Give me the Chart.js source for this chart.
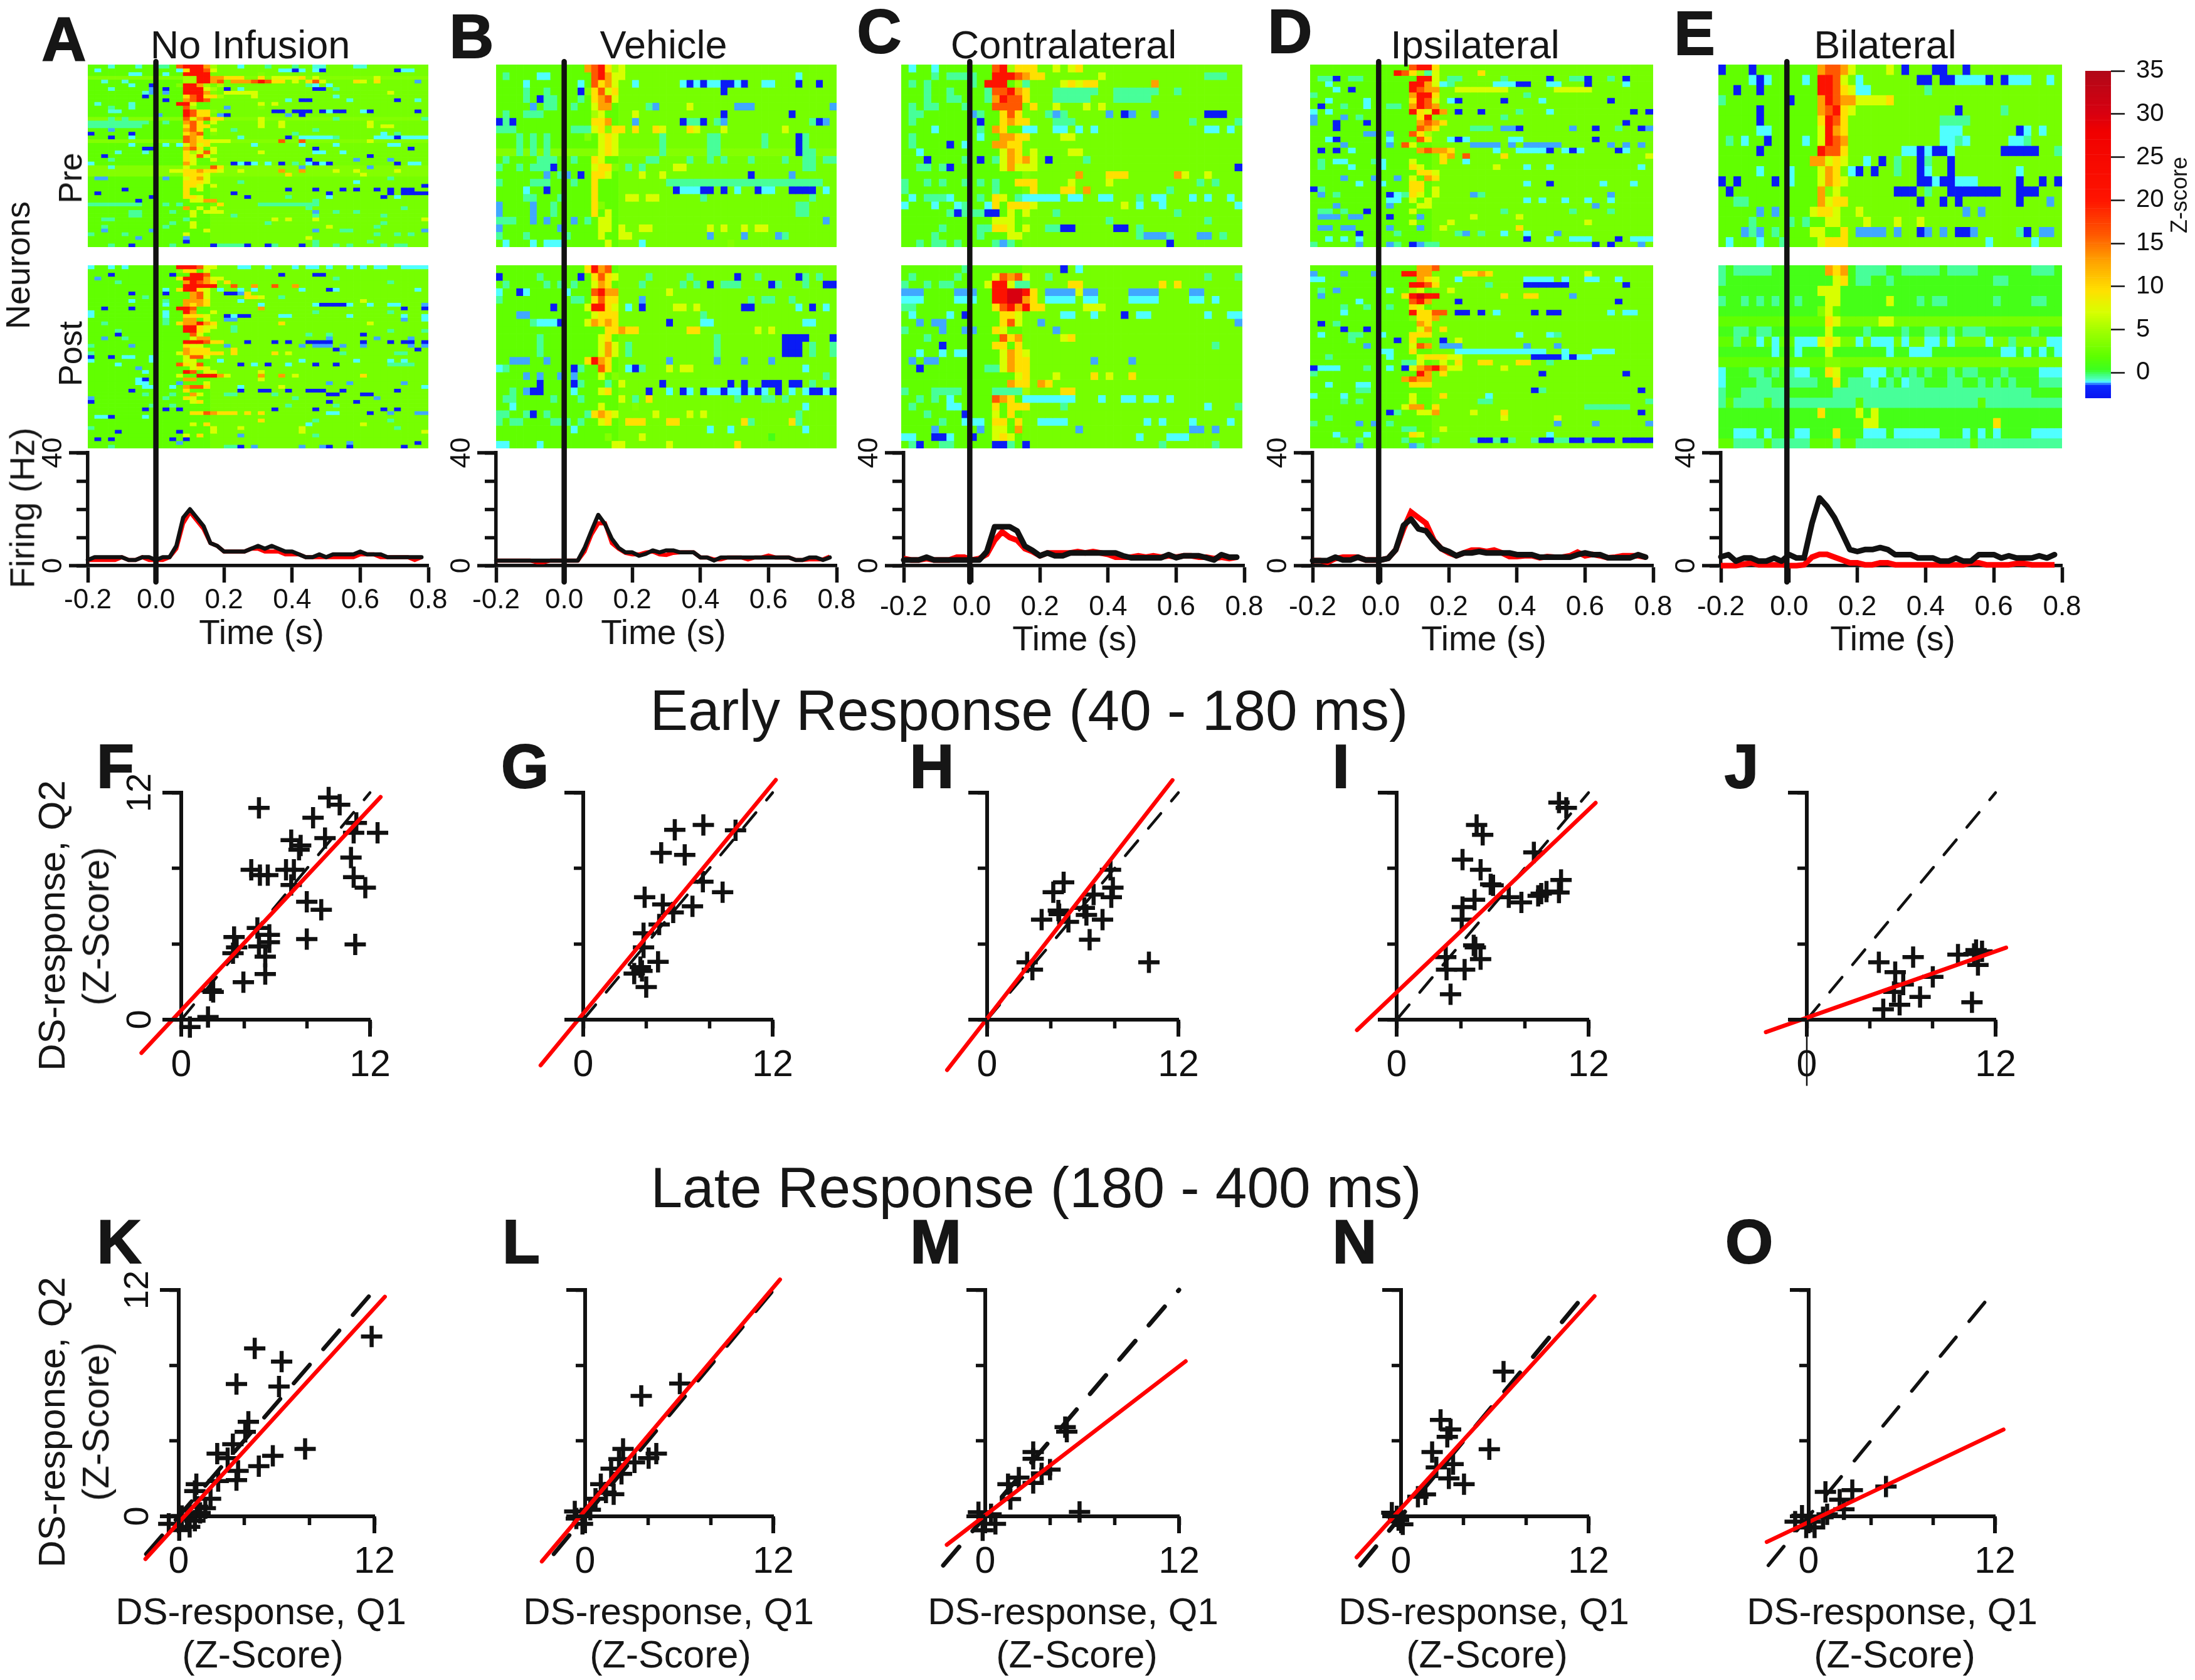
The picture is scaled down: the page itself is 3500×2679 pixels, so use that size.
<!DOCTYPE html>
<html><head><meta charset="utf-8">
<style>html,body{margin:0;padding:0;background:#fff;width:3500px;height:2679px;overflow:hidden}
canvas{position:absolute;display:block}
.t{position:absolute;white-space:pre;line-height:1;color:#161616;font-family:"Liberation Sans",Arial,sans-serif}</style>
<script src="https://cdn.jsdelivr.net/npm/chart.js@4/dist/chart.umd.js"></script>
</head><body>
<script>
// Heat maps: each row = base cell letter, then "column+letter+runLength" cells
const zOfLetter={B:-2.5,A:-1.25,C:-1.05,T:-.9,s:-.5,g:.7,h:2,k:2.9,l:3.5,m:5,y:7,Y:9.5,o:13,O:16,r:21,R:30};
const heatAPre=["h 3T 7T 10s2 13O 14r3 17o 18m 22C 26s 30s 33T2 39T2","h 1C 13C 14Y 15r2 17O 18y 28C2 30B 31C 33C 34B 45B 46C2","h 6C2 11C 14r2 16r2 25l","l 14m2 16r2 18o2 20Y3 23l 25Y 26l 27y3 29y2 31Y 33y 42y","h 2T 5T 14m2 16r2 18o 19O 21o2 23o 24O 25r 26O 27Y2 30y 32Y 33O 34y 39Y 40y 42Y 48A","h 6C 9B 13l 14r2 16o 17m 19m 32s 33C 35C","h 3T 9A 11B 14r3 17y 18m 20B 22T 33B2 36s","h 8T 9A 11A 14r2 16r2 17o 18l 20y5 44y","h 8B 14Y 15O 16r 17Y2 19m 24y 36T","h 11B 14o 15O 16r 17O 29T 31B2 38T 45B 48T","h 1T 6T 13r2 15y 25y 27y","h 3s 6T 14O 15m 20A 25l","h 3T2 14r 15O 16Y2 18l 27B 28B 30B3 34B 35C 36B2 40C 41B 48B","h 10A 14r 15O 16Y2 19A 20B 29A 31B","l 3s 5s 14O 15y 16o 17O 18Y2 25y 36s 49s","h 0s9 11s 14o 15O 16Y 18y 25y 28y 41y","h 0s8 14Y 15O 16Y2 25y 28y 41y 43y2","h 3A 14o 15O 16Y 18y 21s 33s","h 0B 6B 14Y 15o 16O 18l 30s 43C 45s","h 3B 6C 14O 15o 16Y 22T 29B 31C5 36s 42C3 45B 46C4","l 14O 15o 16Y 17Y 18y3 28O 31O 41y","h 6C 11C 13C 14y 15o 16y 17Y 24C 31C 36C 44C2","h 8B2 14o 15O 16Y 18y 33B 47B","h 4T 8T 14Y 15m 16y 17O 18y 25y 33C2 37C","h 2B 14Y 15y 16O 17y 41B","h 3s 14Y 15y 18y 32B 39A 44A","h 0C 14o 15y 21B 22C 23B 24C 26C 28B 30s 32C 33B 34C 35B 45B 47C2","l 3T 14y 18O 19Y 31A 41A","l 12y2 14Y2 16o 17Y2 19y 22y 28o 31o 36y 39y 45y","l 14Y3 17y 29Y 40y","h 1A2 11A 14y 15Y 16o 17y 44s","h 14Y3 17y 22s 39C","h 14Y2 16y 18y 49B","h 5B 14Y 16y 29B 33B 37B 39B 42B 44B 46B2","h 1B 14Y 21B 35B 46B4 44B","h 9B 14Y2 16y 23B 29s 35C 43B 45C","h 7B 15y 16y 17o2 33s","h 0s8 11s 13s 19Y 25s9","h 14o 16y 18y 32s 46s","h 6s2 12s 15y 17y3 33A 36s 39s","h 6s2 15y 21s 33s 43s","h 2s2 14s 27y 29y 33y 49y","h 12s 15y 26s 43s","h 2s 11s 15y 35y 42s","h 2A 9A 17y 33A 37s2 49A","h 0s 5s 14y 42s 45s 47s","h 7A 14A 32y","h 14B 33s 41s","h 3s 6B 12s 18B 19s4 23B 26B 27s 31B 33s 36s 38s 43s 45s2"];
const heatAPost=["h 0C 3C 5C 13r 14r3 16O 17y2 22C2 26C 30C 32C2 35C 38C 40C 42C2 46C4","h 13l 14Y 15Y 17y","h 3B 12B 15r 16r 17O 28B 33B2","h 1A 13Y 14r3 17o 18y2 36s","h 4s 14o 15r 16O 17o 18Y 20Y 44s","h 14r5 21O 24o 27O 30o","h 11C 13Y 14r 15r 16Y 17y 19C 22C 24C 31C 35B 36C 48C","h 6B 11B 15o 16O 17y 20B2 22A 23Y","h 8s 15o 16O 17y 23Y2 25y 28s","h 6C 11s 14o3 17Y 22C 40y","h 11C 14o 15Y 16o 17Y 25C 33C 34B 35B2 37B 38C 41C 44C2 49A","h 2B 6B 13r 14r 15O 25o 46B 49B","h 0C 11C 14r 15o 18y 33s 44s","h 0C 11C 14Y 15Y 16Y 17y 20B 21C 22B2 28C2 38C 46C 49C","h 11s 14o 15o 17y 20A2 46A 49C","h 2s 11s 13Y 14o 15o 16r 17o 18Y 28Y 41y","h 14r 15r 16Y 17y 18y 21s","h 4s 14r 15r 16Y 17y 21s 44s 49s","h 4B 15O 16y 32s 35s 40B","h 2A 5s 15y 16o 17o 35A 42A 47A","h 14r3 17O 18Y2 23B 27B 29B 32B3 35B 40B 44B 46B2 49B","h 0s 6A 14Y 15y 16y 20A 31A 33A3 37A 40A 47A 49A","h 14o 15Y3 21Y 36B 48B","h 0s 13y 14o 15Y 16Y3 19Y 21Y 27Y 29y 37s 45s2","h 0B 3B 5C2 9C 14y 15O2 17y","h 0C 9C 14y 15y 19C 31C 39C 44C 46C","h 4C 13O 14Y 15y 16O 22B 24C 26B 29C 33B 36B 44s4","h 7A 15y 16Y 17y","h 8C 14r 15O 17y 18y 25y","h 13y 16r 17r2 19o 20y 25o 28o 30y 40Y","h 7C 8B 14o 15o 25y","h 7C2 13A 17y 35A 38A 46A","h 8C2 12C 14o 15O 16O 17Y 22C 28y 49C","h 6B 14Y 22B 25B2 29B 32B3 37B 45B","h 8s 12s 15o 16y 20s2 27s 35B2 40B2","h 0A 11s 14Y 15y 42A 30s","h 0B 15y 16Y 35B 39B","h 9s 12s 29s 36s","h 8B 11B 13B 27B 33B 43B 45B","h 15Y2 17O 18o 19Y2 21Y 23Y 25Y 35C2 41B 44A 48A2","h 1C2 3B 8C","h 25Y 33s 44s","h 15y 17Y 32C 40y","h 0s 18y 22y 31y 45s","h 4B 13B 18y 31y 49y","h 14y 16Y 22A 33s","h 1B 3B 12B 14B","h 13A 38A 48B","h 3s 20s2 22B 24A 31A 34A 35B 38B 46B"];
const heatBPre=["h 13o 14O 15r 16Y 17m 18y","h 1s 6C2 14O 15r 16o 17y 18y 44C","h 4C 12C 14O 15Y 16o 17y 20C 27C 28B 29C 30B 31C2 33B2 35C 36B 39C2 44B 47B","h 4s 7s 12B 13l 14Y 15O 16y 17Y 33B","h 4s 6B 7s 8s 12s 14Y 15o 16O 17y","h 5A 7s2 11s 14y 15o 16o 22s 23A 28y 35A3 49A","h 1s 4s3 14m 15y 20y 33B 43B","h 0B 1s 2B 14Y2 16o 20A 27B 28s2 30B 32s 33A 46s 47B 48A","h 0s3 11s3 14y 15Y 16l 17Y2 20Y 23Y 24y 28Y 29y 33y 42y","h 3s 5s 7s 13l 15y 16Y 17y 24s 31s2 39s 44B 45s","h 3s 5s 7s 15y 16Y 17y 24s 31s2 39s 44B 45s","l 3s 5s 7s 15y 16Y 17y 24s 31s2 44B 45s2","h 1s 6s2 8s 11s 14Y 15y 22s2 28s 31s 33s 37s 42s 45s2 48s2","h 0s 3s 5s3 8B 14y 15Y 16Y 17l 19s 21s 26y2 45s2","h 7A 9s 10A 12B 14Y 15Y 16y 21y 24y 37B 43A","h 0s 5s3 11s 14Y 25s20 45s3","h 4C 7B 14Y 26B 27C3 30B2 33B 35C 38B 39C2 43B4 48C","h 4s2 9s 14Y 19y2 22y2 30s 46s","h 0A 5A 8s 14Y 15l 44s2","h 0A 5A 8s 14Y 16y 44s2","h 0s3 5A 7A 11A 13s 15y 16y 48A","h 0A 9A 15y 16y 18y 21y2 31y 33y 36y 38y 39y","h 0s 4s 10s 15y 18y2 31A 36A 41A 42s","h 1C 5C 7C2 9C 16y 21C 34l"];
const heatBPost=["h 13Y 14r 15o 16O 17h","h 0B 6s 12B 14Y 15O 16Y 17y 22s 28s 35B 38s 44B 45s 47s","h 1s 7s 9s 11s 14y 15o 16Y 21s 27s 29s 31B 33s3 40B 41s 45s 48B2","h 0C 3B 4C 10C 14O 15r 16o 17o 25y","h 0s 11s2 14Y 15O 16Y 17Y 21A 37s 39s2 43s","h 8B 13y 14r2 16Y 17y 19C 21B 26y2 29y 36B2 44C 46B 48C","h 3A2 14y 15Y 16Y 17Y 30s","h 5s 6C3 9B 13y 14o 15Y 16o 17Y 25B 30C2 45C2","h 16Y 17Y 18o 19Y2 28Y2 38y 40y","h 6s 15y 16Y 32s 42B4 49B","h 6s 15y 16o 17y 19s 32s 42B3 46s 49s","h 6s 15y 16o 17y 19s 32s 42B3 46s 49s","h 2A3 7A 13Y 14r 15o 16Y 25A 32A 36A 40A","h 0C 1s 11B 12s 15O 16Y 19C 20B 21s 25y 27y2 45C","h 4A 6A 9A 11A 15y 17l 48s","h 6B 11B 12s 16s 18y 24B 34B 36B 39B3 43B2 46s","h 2s 4A 5B2 11C 15y2 16Y 22B 25C 27B 28C 30B 31C2 33B 34C2 36B 37C 38B 39C 41B 43C 45C 46B2 48C 49B","h 1s2 8s 12s 18y 20s 22Y 35s 39s2 42s","h 2C 15y 20l 45C","h 0s2 4s 5B 7s 13s 14Y 15o 16Y 17y 23y 28y 30y 44s","h 0s 2s2 8s2 10s 12s 15y 16Y 19Y3 25Y2 36Y 37s 43Y 44s","h 11C 31C 34C 45C","h 16l 21y 40g","h 0C2 6C 17y2 25y 35Y"];
const heatCPre=["h 1C 4C 12O 13r 14m 15Y3 20y 22y 23Y","h 4s 6s3 9s 12o 12r2 14r 15O 16o 17Y2 26y 40s3","h 1s 3s 9s 11r 12r2 15m 16s 21y 22Y 23y 24Y2 33o","h 3s 6s 11s 12O 13O 14r 15o 16Y 20s6 28s6 36s","h 3s 6s2 11s 12o 13r 14O 15O 16Y 20s5 28s5","h 1s 3s2 8s 12O2 14O2 15O 17Y 20y 24y 26y","h 1s2 9A 10s 13Y 14O 15Y 19s 20A 21s 27A 29B 30A 33A 40B3","h 1s 10B 13Y 14o 15Y 16Y 20s3 38s 44s","h 4C 10s 12o 13Y 16C2 20C2 23C 25C 40C2 43C","h 1s 10C 13o 14o 15Y2 21y 22y","h 1s 6B 8C 12o 13o 14Y 15Y","h 2C 13y 14o 15Y 17y 22y2","h 3B 8s 10B 12s 13y 14o 15Y 16o 17y 19B 24s","h 2s2 5s 6B 13y 14o 15y 16y 17y 44B","h 16l 23o 27Y3 36o 37y 40y","h 0s 3s 5s 8s 10s 12s 15Y2 17Y 22y 27y 39s 41s","h 0s 12s 17Y 21Y2 24o 35s","h 1C 3s3 6C 10s 12Y 13y 15s 16C5 22C2 26C2 31s 33C2 38C 40C 43C","h 0C 4C 7C 8s 11C 12Y 14Y3 17y 29y 31C 34C 44C","h 6s 7B 8s2 10s 11B2 14y 16y 20s 36s","h 12y 13y 14y 27s 40s","h 5s 10s2 12Y2 14y 16y 19s2 21B2 28B2 31s","h 4s 10s 14y 15y 31s 32A3 35s 39A2 42s","h 2s 4s2 7s 12s 13A 14s 35B"];
const heatCPost=["h 8s 21B 23C","h 1s 7s 12y 13O 14o2 15O 16y 19s 40s 44s","h 0s 3s 5s2 11y 12r 13r 14y 15s2 22Y2 34Y 36Y","h 0A3 7A2 9A 12r 13r 14R 15R 16r 17Y 19A4 23y 24A2 30A4 38A2","h 0C3 7C2 9C 12r 13r 14R 15R 16o 17Y 19C4 24C2 30C4 38C2 41C","h 0s2 12Y 13O 14r 15o 16r 17Y2 24y3","h 1C 6C 8B 13Y2 15y 21C2 25C 29B 31C2 40C 43C2","h 2A 4A2 13Y 14O 15y 18A 44A","h 0s 5A 8A2 12Y 13y 20A","h 3s 13O 14Y 15o 21y2 22Y","h 5B 12Y2 15Y 41s","h 2C 5C 7C2 13y 14o 15Y 16y","h 1A 3A2 13y 14o 15Y 16Y 25A 30A","h 2B 11s2 13y 14o 15Y 16Y","h 16l 15y 16Y 20y 25Y 27y 30Y","h 14o 15Y2 18o 19Y","h 0s 4s3 7s 12s4 16m 21Y2","h 2s 4s 6C 12O 13o 14Y 16C7 26C 29C2 32C2 35C","h 1s 6C2 12Y 14Y 15Y 16Y 21s 40C 44s","h 3s 8B 12y 14Y","h 5s 8C3 12Y 13Y 15Y 18C4 32C 34C 38C 43C","h 4A 10A 12y 13y 15o 23A 38A2 41A","h 0C2 4B2 6C 9B 12y 13Y 14y 31C 35C3","h 1s 2B 5s2 12B2 14s 16B 34s 41s"];
const heatDPre=["h 13O 14r2 16Y","h 11r 12O 13Y 14m 15s 16y 22Y","h 1s2 3B 5s2 14r 15r 16y 18s2 25s 31B 34s2 36B 39s 41B","h 2C 13r 14r 15o 16y 17C 18s 24C3 27B2 31C2 36B 41C","h 3C 5B 13r 14O 15o 16o 19y7 32y5","h 0s 13o 14r 15r 16Y 28s","h 2C 7C 13Y 14r 15O 16y 18C 19B 25B 30C 39B","h 1B 4s 7C 10s2 13o 14r 15O 16o","h 0C 2C 13r 14Y 15y 16r 17o 19B 22B 27s 31C 42B 44B","h 0A 4A 6s 14Y 15r 16l 25s","h 0A 3B 7B 14o 15O 16o 17Y 41B","h 3B 14O 15o 16Y 21s3 25A2 27B 34A 37B 40s 43B 44A","h 7A 8A 10A 13O 14Y 15m","h 2C 3B 10C 14O 15Y 18C 19B 20C 26C2 37B","h 4A 10A 12O 13y 21A3 24A 26A 28A4 32A 39A 41A 43A","h 1B 3B 5C 14o 15O 16o 17o 18Y 24C 27C4 31B 33C 34B 35C 40B 41C","h 17Y 18o 20O 25Y 44y","h 1s 3C2 8s 9C 13y 17Y 20C","h 1s 5C 9C 13Y 14y 24y 28C 31C 43C","h 14Y 15Y 16y","h 4A 8A 11A 13y 15o 16Y","h 6C 9C 13Y 14Y 28C 31B 38C 42C","h 0B 1s 13Y 14Y 16y","h 1A 3s 10B 11C 12s 13Y 14y 16y 21A 22s 39A","h 10C2 13y 15y 28C 30C 33C 36C 39C","h 3A 10A 14y 15y 37A","h 1s2 4s 7B 13y 25s 34s 39s","h 1A2 3A 5A2 10B 14A 21y 27y","h 13y 18y 36y","h 1A2 4A 5A 10A 14A 17y 27Y","h 6B 11s 19s 20A 22s 25C 28C 32A","h 2C 4C 6C 28B 31C 34C2 36C 40B 42C3","h 0s 6A 10A 11s 13B 14A 15s2 37B 39B 43A"];
const heatDPost=["h 14o 15o 16O","h 0A 4A 8A 12r2 14o2 20Y2 22o 23Y 36y","h 0C2 14o 15Y 16y 19C 28C3 31C 33C 36C2 40C","h 13r 14r 15O 16Y 23s 28B3 31B3 41B","h 1s 3A 10C 13m 14y 18y","h 1A 12Y 13r 14R 15r 16r 25Y 28Y2 34A","h 6C 13O 14r 15o 19B 40B","h 4s 7s 10s 13Y 14y","h 4C 13r 14Y 15Y 16O2 19B2 22B 24C 29B 31B2 39C 41C2","h 13l 14Y 15Y 16o","h 1B 3s 14o 15Y","h 4B 7B 14y 15o 17Y","h 1C 5s2 9C 13Y2 15Y 27C 31C 32s","h 5s 11B 13Y 17B 19y","h 7A 13y 14O 15o 17A3 28A 32A","h 9C2 13Y 19C3 22C9 33C 37C3","h 2s 10C 14y 15Y3 18y2 29B5 33C 34B 35C2","h 12s2 14y 17y 19Y 22Y2 27Y 28Y 31s","h 0B 1C3 7s 10C 12B 13y 14o 15O 16r 17o 18y2 25y","h 0s 14r 15o 17Y 30B 41B","h 12o 13O 14o 15o","h 2C 6C2 13Y2 15Y","h 6s2 29B 30s 43B","h 0C 4C 13y 17Y 23C","h 4s 6s 13y 22s2 44s","h 12y 13o 14o 16Y 36s6","h 10B 11s 14y 15y 16o 21y 25Y 43B","h 2s 25y 32y","h 0s 6A 8A 10s 32A 37A 44A","h 12s2 17y","h 3C 7C 13Y 14y 31C","h 4s 6s 12s 16s 21s 22B2 24s 25B 26s 29s 30B2 32s2 34B2 36s 37B3 41B2 43B2","h 6A 13A 14s"];
const heatEPre=["h 0B 4B 13o 14O 15O 16o 17y 22y 24B 28B2 32B","h 4C 5B 6C 11C 13r 14r 15O 16y 18C 26B2 29B 30B2 31C4 35B 37B 38C3 43C","h 2B 5B 13r 14r 15O 16Y 17y 18C2 27s","h 0s 9B 13o 14r 15O 16o 17o 18y 19y3 22Y","h 5B 13o 14O 15r 16Y 17y 31B 37s","h 5B 13Y 14r 15O 16Y 29s4","h 5C2 13y 14r 15o 16Y 29C3 39B 40C 42C","h 1s 3C 6B 11C 13y 14r 15O 16o 29C2 31s 32C 38C2 40s","h 5B 13r 14O 15O 16Y 24C2 26B 27C 28B2 30C 37B5 44s","h 12o 13o 14y 15Y 16y 19C 21B 23s 26B 27s 30B","h 5C 9C 13y 14o 15Y 17C 18B 20B 23s 26B 27C 30B 39C","h 0B 2B 7B 9C 13y 14o 15Y 16y 26B2 28C 29B 30B 31C3 39B 42B 44B","h 1B 13o 14l 15y 23B2 25B 27s 30B5 35B2 39B 40B2","h 2s2 13o 14y 15Y 16Y 26B 29B 31B 39B 43A","h 5A 7A 12y 13Y 14Y 15y 18y 32A 34A","h 4s 9s 11s 14y 15y 19y 23y 26y","h 3A 4s 5A 7s 12y 13y 16Y 18A4 23A 26B 27A 29A 31B2 33A 39s 40B 42A2","h 1C 5C 8s 13y 14Y 15Y 16Y 35C 41C"];
const heatEPost=["g 0s 2s 3s4 14o 15Y 16o 18s4 24s5 30s4 41s3","g 0s 15y 16Y 18s2 22s 36s2","g 13y 14y 15y","g 0s 3s 5s 7s 10s 14y 15y 22y 26s 28s2 36s 41s2","g 13l 14y 15h","h 14Y 15y 21y2","g 2s2 5s2 14y 19s 24s 27s2 30s 32s3 41s","h 2s 5C 7C 10C3 13y 14Y 15y 18C 20C2 22C 24C 27C2 30C 35C 38s 43C2","g 7C 10C 14y 22C 25C3 37C2 40C 42C 44C2","h 14l 15l","g 0C 4s2 7s 9s 10C2 14Y 15y 19C3 23s 25s 27s 30s 32s2 37s 42C3","g 0C 5s2 9s 10s3 12s 15Y 17s3 20C 22s 24C 25s2 30s2 34s 36s 38s 42s3","g 0s 3s6 15s 16s25","s 1h 6h 18h 34h","g 13Y 18y 20y","g 19y2 36Y","g 2C2 4C 6C 10C2 15Y 19C3 23C6 32C 34C 36C 41C4","s 0h2 6h 12h3 16h2 33h"];
// Firing-rate traces
const time50=[-0.2,-0.18,-0.16,-0.14,-0.12,-0.1,-0.08,-0.06,-0.04,-0.02,0,0.02,0.04,0.06,0.08,0.1,0.12,0.14,0.16,0.18,0.2,0.22,0.24,0.26,0.28,0.3,0.32,0.34,0.36,0.38,0.4,0.42,0.44,0.46,0.48,0.5,0.52,0.54,0.56,0.58,0.6,0.62,0.64,0.66,0.68,0.7,0.72,0.74,0.76,0.78];
const time45=[-0.2,-0.178,-0.156,-0.133,-0.111,-0.089,-0.067,-0.044,-0.022,0,0.022,0.044,0.067,0.089,0.111,0.133,0.156,0.178,0.2,0.222,0.244,0.267,0.289,0.311,0.333,0.356,0.378,0.4,0.422,0.444,0.467,0.489,0.511,0.533,0.556,0.578,0.6,0.622,0.644,0.667,0.689,0.711,0.733,0.756,0.778];
const firingABlack=[2,3,3,3,3,3,2,2,3,3,2,3,3,7,17,20,17,14,8,7,5,5,5,5,6,7,6,7,6,5,5,4,3,3,4,3,4,4,4,4,5,4,4,4,3,3,3,3,3,3];
const firingARed=[2,2,2,2,2,3,2,2,3,2,2,2,3,6,15,19,16,13,8,7,5,5,5,5,6,6,5,5,5,4,4,4,3,3,3,3,3,3,3,3,4,4,4,3,3,3,3,3,2,3];
const firingBBlack=[1.8,1.8,1.8,1.8,1.8,1.8,1.8,1.8,1.8,1.8,1.8,1.8,1.8,6.3,12.3,18,14.7,9.5,6.3,4.7,4.7,3.5,4.2,5.4,4.7,5.4,5.4,4.7,4.7,4.7,2.9,2.9,1.8,2.9,2.9,2.9,2.9,2.9,2.9,2.9,2.9,2.9,2.9,2.9,2,2,2.9,2.9,2,2.9];
const firingBRed=[1.8,1.8,1.8,1.8,1.8,1.8,1.2,1.2,1.8,1.8,1.8,1.8,1.8,5,11,15,15,8,6,4.5,4,4,4.7,5,4,3.8,4.5,4.7,4.7,4.7,2.9,2.9,2.2,2.2,2.9,2.9,2.9,2.2,2.9,2.9,3.6,2.9,2.9,2.9,2,2,2.2,2.2,2.2,3.2];
const firingCBlack=[2,2,2,3,2,2,2,2,2,2,2,5,13.8,13.8,13.8,12.3,6.9,5.4,3.5,4.5,3.5,3.5,4.5,4.5,4.5,4.5,4.5,4.5,4.5,3.5,2.8,2.8,2.8,2.8,2.8,3.9,2.8,3.5,3.5,3.5,2.8,2,3.9,3,3];
const firingCRed=[2.5,2,2,2.5,2,2,2,3,3,2,2.5,4,9,12,10,9,6,5,3.5,4.5,4.5,4.5,4.5,5,4.5,5,4.5,4,3,3,3,3.5,3,3.5,3,3.5,3,3.5,3.5,3,3,2.5,3,2.5,3];
const firingDBlack=[1.8,1.8,1.8,3,2,2,3,2,2,2,2.6,5.6,14.3,16.5,13,12.3,8.7,6,5,3.5,4.5,4.5,5,4.5,4.5,4.5,4.5,3.9,3.9,3.9,3,3,3,3,3,3.9,4.5,3.9,3.9,2.8,2.8,2.8,2.8,3.9,3];
const firingDRed=[1.8,1.8,1.2,2.5,3,3,3,2,2,2,2.6,5.6,13,19,17,15,9,6,4.5,3.5,4.5,5.5,5.5,5,5.5,4.5,3.2,3.2,3.5,3.5,2.8,3.2,3,3,3.5,4.8,3.5,4,3.5,2.8,3,3.5,3.5,3.5,3];
const firingEBlack=[3.1,3.9,1.6,2.7,2.7,1.6,1.6,2.7,1.6,3.9,2.7,2.7,15,24,21,17,11.3,5.7,5,5.7,5.7,6.4,5.7,3.9,3.9,3.9,2.7,2.7,2.7,1.6,1.6,2.7,1.6,1.6,3.9,3.9,3.9,2.7,3.5,2.7,2.7,2.7,3.5,2.7,3.9];
const firingERed=[0,0,0,.5,1,.3,.3,.3,.3,0,0,.3,3,4,4,3,2,1,1,.3,.3,1,1,.3,.3,.3,.3,.3,.3,.3,.3,.3,.3,1,1,.3,.3,.3,.3,.8,.8,.3,.3,.3,.3];
// Scatter points [Q1, Q2]
const scatterF=[[.55,-.39],[1.7,.14],[2.03,1.47],[1.9,1.55],[3.95,1.98],[5.34,2.41],[5.34,3.33],[3.29,3.51],[3.52,3.82],[4.94,3.87],[5.6,4.09],[3.36,4.37],[5.6,4.48],[4.84,4.85],[7.98,4.26],[11.06,3.98],[8.9,5.81],[7.98,6.23],[11.7,6.98],[10.96,7.53],[6.99,7.12],[7.16,7.92],[6.66,7.92],[4.45,7.92],[5,7.64],[5.5,7.64],[10.79,8.57],[9.14,9.6],[6.99,9.49],[7.59,9.21],[7.49,8.98],[12.48,9.88],[10.96,9.88],[11.13,10.4],[8.38,10.67],[4.94,11.2],[10.07,11.36],[9.37,11.74]];
const scatterG=[[3.99,1.72],[3.23,2.44],[3.72,2.58],[3.62,2.78],[4.74,3.06],[3.82,3.82],[3.82,4.57],[4.81,5.03],[5.7,5.67],[5.04,6.09],[6.92,5.99],[3.89,6.47],[8.83,6.74],[7.58,7.29],[4.94,8.82],[6.43,8.71],[5.8,10.04],[7.61,10.29],[9.65,10.01]];
const scatterH=[[2.51,3.03],[2.84,2.64],[3.42,5.29],[4.15,6.74],[4.8,7.26],[4.47,5.77],[4.52,5.58],[5.1,5.17],[6.23,5.54],[6.1,5.91],[6.68,6.61],[7.24,5.29],[6.43,4.23],[7.79,6.47],[7.89,6.98],[7.74,7.92],[10.15,3.03]];
const scatterI=[[3.37,1.34],[3.12,2.64],[4.25,2.64],[3.07,3.31],[5.25,3.2],[4.82,3.93],[4.92,3.82],[4.07,5.29],[4.12,5.95],[4.87,6.34],[5.88,7.15],[5.25,7.92],[4.12,8.46],[5.38,9.77],[5,10.29],[10.15,11.48],[10.61,11.2],[8.58,8.84],[10.28,7.38],[10.15,6.72],[9.04,6.66],[9.37,6.77],[8.85,6.55],[7.8,6.2],[7.01,6.47],[6.03,7.1]];
const scatterJ=[[4.86,.55],[5.9,.79],[7.2,1.2],[10.5,.92],[5.54,1.47],[6.13,1.86],[5.62,2.51],[4.58,3.03],[8.01,2.26],[6.76,3.31],[9.61,3.44],[10.88,2.89],[10.76,3.68],[11.14,3.61],[10.63,3.47]];
const scatterK=[[11.83,9.53],[4.66,8.9],[6.31,8.2],[3.54,7.01],[6.15,6.88],[4.27,5.01],[4.08,4.48],[3.32,3.82],[7.75,3.57],[2.36,3.32],[3,3.08],[5.77,3.21],[4.91,2.66],[3.64,2.41],[3.54,1.92],[2.42,1.87],[1.08,1.7],[.99,1.34],[1.95,.93],[1.63,.43],[1.15,.51],[1.31,.18],[.19,.02],[-.61,-.4],[.03,-.73],[.67,-.56],[.99,-.23],[-.13,-.98],[.51,-.15]];
const scatterL=[[3.58,6.38],[6.04,7.04],[2.42,3.57],[4.54,3.32],[4.05,3.08],[3.15,2.86],[2.16,3.03],[1.66,2.53],[2.32,2.25],[1,1.7],[1.82,1.17],[1.33,1.26],[.66,.93],[.33,.35],[-.56,-.12],[-.66,.26],[-.17,-.4]];
const scatterM=[[5.84,.23],[4.95,4.73],[5.05,4.49],[2.97,3.41],[2.97,3.05],[4.01,2.48],[3.49,2.28],[2.08,2.05],[1.41,1.7],[2.97,1.77],[1.56,.91],[-.42,.22],[.36,.11],[.63,-.4],[-.16,-.74],[-.52,-.79]];
const scatterN=[[6.56,7.67],[2.53,5.11],[3.17,4.6],[2.96,4.21],[5.65,3.56],[1.99,3.41],[3.33,2.77],[2.26,2.59],[3.06,2.01],[4.03,1.7],[1.56,1.16],[1.08,1.04],[-.59,.19],[-.27,0],[.11,-.42],[-.97,-1.08],[-.16,-.2]];
const scatterO=[[4.98,1.58],[2.81,1.39],[1.08,1.3],[2,.88],[2.27,.37],[1.19,.11],[-.43,.03],[-.87,-.28],[.11,-.28],[.38,-.59],[-.16,-.59],[.92,-.05]];
// Regression lines (ends) and unity-line ends
const fitF=[[-2.53,-1.76],[12.67,11.77]];const fitG=[[-2.7,-2.41],[12.2,12.67]];const fitH=[[-2.51,-2.66],[11.63,12.66]];const fitI=[[-2.48,-.55],[12.44,11.46]];const fitJ=[[-2.6,-.66],[12.67,3.81]];
const fitK=[[-2.04,-2.26],[12.64,11.64]];const fitL=[[-2.76,-2.39],[12.43,12.55]];const fitM=[[-2.38,-1.51],[12.41,8.22]];const fitN=[[-2.84,-2.17],[12.38,11.67]];const fitO=[[-2.7,-1.36],[12.55,4.6]];
const unityEarly=[[0,0],[12,12]];const unityLateShort=[[-2,-2],[12,12]];const unityLate=[[-2.6,-2.6],[12,12]];
// Tick values and labels
const firingXTicks=[-0.2,0,0.2,0.4,0.6,0.8];const firingYTicks=[0,10,20,30,40];const firingYLabels=[0,40];
const scatterTicks=[0,4,8,12];const scatterLabels=[0,12];const colorbarTicks=[0,5,10,15,20,25,30,35];
const panelTitles=[["No Infusion",399,71],["Vehicle",1058,71],["Contralateral",1696,71],["Ipsilateral",2352,71],["Bilateral",3006,71]];
const panelLetters=[["A",102,62],["B",752,58],["C",1402,50],["D",2057,50],["E",2702,53],["F",184,1222],["G",837,1222],["H",1486,1222],["I",2138,1222],["J",2777,1222],["K",190,1980],["L",831,1980],["M",1492,1980],["N",2160,1980],["O",2789,1980]];
const sectionTitles=[["Early Response (40 - 180 ms)",1641,1132],["Late Response (180 - 400 ms)",1652,1893]];
const timeTitles=[[417,1008],[1058,1008],[1714,1018],[2366,1018],[3018,1018]];
const q1Titles=[[416,419],[1066,1069],[1711,1717],[2366,2371],[3017,3021]];

const INK='#111111',RED='#ff0000';
Chart.defaults.font.family='"Liberation Sans",Arial,sans-serif';Chart.defaults.color=INK;
const zStops=[-3,-1.5,-1.25,-1.05,-.75,-.3,.3,1.8,3.5,5,7,9.5,13,16,20,28,30,35];
const cStops=[[10,20,240],[10,40,255],[64,168,255],[80,255,255],[80,255,184],[64,255,128],[60,255,32],[92,255,0],[132,255,0],[164,255,0],[216,255,0],[255,224,0],[255,160,0],[255,88,0],[255,20,0],[240,0,0],[216,0,16],[176,8,24]];
function zColor(z){let i=0;while(i<zStops.length-2&&z>zStops[i+1])i++;const t=Math.min(1,Math.max(0,(z-zStops[i])/(zStops[i+1]-zStops[i])));const a=cStops[i],b=cStops[i+1];return `rgb(${a.map((v,k)=>Math.round(v+(b[k]-v)*t)).join(',')})`;}
// late: first column of the post-response period, where the 'h' background reads as the limer 'k'
function parseRow(row,n,late){const p=row.split(' ');const vals=new Array(n).fill(zOfLetter[p[0]]);if(p[0]==='h')for(let k=late;k<n;k++)vals[k]=zOfLetter.k;for(const tok of p.slice(1)){const m=tok.match(/^(\d+)([A-Za-z])(\d*)$/);const c=+m[1],len=m[3]?+m[3]:1;for(let k=c;k<c+len&&k<n;k++)vals[k]=zOfLetter[m[2]];}return vals;}
function mk(x,y,w,h){const c=document.createElement('canvas');c.width=Math.round(w);c.height=Math.round(h);c.style.left=Math.round(x)+'px';c.style.top=Math.round(y)+'px';document.body.appendChild(c);return c;}
const base={animation:false,responsive:false,devicePixelRatio:1,events:[]};
const noPlug={legend:{display:false},tooltip:{enabled:false},title:{display:false}};
const longTicks={id:'longTicks',afterDraw(ch,a,o){const g=ch.ctx,ar=ch.chartArea;g.save();g.strokeStyle=INK;g.lineWidth=o.width;g.beginPath();for(const v of o.y||[]){const p=ch.scales.y.getPixelForValue(v);g.moveTo(ar.left-o.yLen,p);g.lineTo(ar.left,p);}for(const v of o.x||[]){const p=ch.scales.x.getPixelForValue(v);g.moveTo(p,ar.bottom);g.lineTo(p,ar.bottom+o.xLen);}g.stroke();g.restore();}};

function heat(rows,n,late,x0,x1,y0,y1){const cells=rows.map(r=>parseRow(r,n,late));const labels=cells[0].map((_,i)=>i);
 const datasets=cells.map((vals,r)=>({data:vals.map(()=>[r,r+1]),backgroundColor:vals.map(zColor),borderWidth:0,barPercentage:1,categoryPercentage:1,grouped:false}));
 new Chart(mk(x0,y0,x1-x0,y1-y0),{type:'bar',data:{labels,datasets},options:{...base,plugins:noPlug,layout:{padding:0},scales:{x:{display:false},y:{display:false,min:0,max:rows.length,reverse:true}}}});}

function firing(time,black,red,x0,x1,lineX,lw,labelPad){const yT=722,yB=901.5,top=94,ml=135,mr=60,mb=145;
 const pts=(ys)=>ys.map((v,i)=>({x:time[i],y:v}));
 const datasets=[
  {data:[{x:lineX,y:178.6},{x:lineX,y:-5.8}],showLine:true,pointRadius:0,borderColor:INK,borderWidth:8.5,borderCapStyle:'round',clip:false},
  {data:pts(black),showLine:true,pointRadius:0,borderColor:INK,borderWidth:lw,tension:0,clip:false,borderJoinStyle:'round',borderCapStyle:'round'},
  {data:pts(red),showLine:true,pointRadius:0,borderColor:RED,borderWidth:lw,tension:0,clip:false}];
 new Chart(mk(x0-ml,top,x1-x0+ml+mr,yB-top+mb),{type:'scatter',data:{datasets},plugins:[longTicks],options:{...base,
  layout:{padding:{top:yT-top,right:mr,left:0,bottom:0}},
  plugins:{...noPlug,longTicks:{y:[0,40],yLen:30,width:5.5}},
  scales:{x:{type:'linear',min:-.2,max:.8,afterBuildTicks:s=>{s.ticks=firingXTicks.map(v=>({value:v}))},afterFit:s=>{s.height=mb},
    border:{color:INK,width:5.5},grid:{drawOnChartArea:false,tickLength:27,tickWidth:5.5,tickColor:INK},
    ticks:{padding:labelPad,autoSkip:false,maxRotation:0,font:{size:44},color:INK,callback:v=>Number(v).toFixed(1)}},
   y:{type:'linear',min:0,max:40,afterBuildTicks:s=>{s.ticks=firingYTicks.map(v=>({value:v}))},afterFit:s=>{s.width=ml},
    border:{color:INK,width:5.5},grid:{drawOnChartArea:false,tickLength:18,tickWidth:5.5,tickColor:INK},
    ticks:{padding:12,autoSkip:false,minRotation:90,maxRotation:90,crossAlign:'center',font:{size:44},color:INK,callback:v=>firingYLabels.includes(v)?String(v):''}}}}});}

function scatter(points,fit,unity,x0,x1,yT,yB,dash,dw,showY,extra){const ml=150,mr=60,mt=70,mb=135;
 const xy=a=>a.map(p=>({x:p[0],y:p[1]}));
 const datasets=[
  {data:xy(fit),showLine:true,pointRadius:0,borderColor:RED,borderWidth:6.5,borderCapStyle:'round',clip:false},
  {data:xy(points),showLine:false,pointStyle:'cross',pointRadius:17,pointBorderColor:INK,pointBorderWidth:6.5,clip:false},
  {data:xy(unity),showLine:true,pointRadius:0,borderColor:INK,borderWidth:dw,borderDash:dash,borderCapStyle:'round',clip:false}];
 if(extra)datasets.push({data:xy(extra),showLine:true,pointRadius:0,borderColor:INK,borderWidth:2.5,clip:false});
 new Chart(mk(x0-ml,yT-mt,x1-x0+ml+mr,yB-yT+mt+mb),{type:'scatter',data:{datasets},plugins:[longTicks],options:{...base,
  layout:{padding:{top:mt,right:mr,left:0,bottom:0}},
  plugins:{...noPlug,longTicks:{x:[0,12],y:[0,12],xLen:27,yLen:30,width:6}},
  scales:{x:{type:'linear',min:0,max:12,afterBuildTicks:s=>{s.ticks=scatterTicks.map(v=>({value:v}))},afterFit:s=>{s.height=mb},
    border:{color:INK,width:6},grid:{drawOnChartArea:false,tickLength:14,tickWidth:5.5,tickColor:INK},
    ticks:{padding:24,autoSkip:false,maxRotation:0,font:{size:59},color:INK,callback:v=>scatterLabels.includes(v)?String(v):''}},
   y:{type:'linear',min:0,max:12,afterBuildTicks:s=>{s.ticks=scatterTicks.map(v=>({value:v}))},afterFit:s=>{s.width=ml},
    border:{color:INK,width:6},grid:{drawOnChartArea:false,tickLength:15,tickWidth:5.5,tickColor:INK},
    ticks:{padding:18,autoSkip:false,minRotation:90,maxRotation:90,crossAlign:'center',font:{size:56},color:INK,callback:v=>(showY&&scatterLabels.includes(v))?String(v):''}}}}});}

function colorbar(){const yT=110.5,yB=636,x0=3325,x1=3366,mr=125,zMin=-2.96,zMax=35;const levels=[];for(let z=zMin;z<zMax;z+=.25)levels.push(z);
 const datasets=levels.map(z=>({data:[[z,Math.min(zMax,z+.25)]],backgroundColor:zColor(z+.12),borderWidth:0,barPercentage:1,categoryPercentage:1,grouped:false}));
 new Chart(mk(x0,yT-40,x1-x0+mr,yB-yT+80),{type:'bar',data:{labels:['z'],datasets},options:{...base,plugins:noPlug,layout:{autoPadding:false,padding:{top:40,bottom:40,left:0,right:0}},
  scales:{x:{display:false},y:{position:'right',min:zMin,max:zMax,afterBuildTicks:s=>{s.ticks=colorbarTicks.map(v=>({value:v}))},afterFit:s=>{s.width=mr},border:{display:false},
   grid:{drawOnChartArea:false,tickLength:22,tickWidth:2.5,tickColor:INK},ticks:{padding:18,autoSkip:false,font:{size:40},color:INK}}}}});}

function txt(s,cx,cy,size,rot,weight){const d=document.createElement('div');d.className='t';d.textContent=s;d.style.left=cx+'px';d.style.top=cy+'px';d.style.fontSize=size+'px';if(weight){d.style.fontWeight=weight;d.style.webkitTextStroke='2px #161616';}d.style.transform=`translate(-50%,-50%)`+(rot?` rotate(${rot}deg)`:'');document.body.appendChild(d);}

// heat maps
const Y=[103,394,423,714.5];
heat(heatAPre,50,18,140,683,Y[0],Y[1]);heat(heatAPost,50,18,140,683,Y[2],Y[3]);
heat(heatBPre,50,18,791,1334,Y[0],Y[1]);heat(heatBPost,50,18,791,1334,Y[2],Y[3]);
heat(heatCPre,45,16,1437,1981,Y[0],Y[1]);heat(heatCPost,45,16,1437,1981,Y[2],Y[3]);
heat(heatDPre,45,16,2089,2636,Y[0],Y[1]);heat(heatDPost,45,16,2089,2636,Y[2],Y[3]);
heat(heatEPre,45,16,2740,3288,Y[0],Y[1]);heat(heatEPost,45,16,2740,3288,Y[2],Y[3]);
colorbar();
// firing rate panels
firing(time50,firingABlack,firingARed,140,683,0,6.5,2);
firing(time50,firingBBlack,firingBRed,791,1334,0,6.5,2);
firing(time45,firingCBlack,firingCRed,1441,1984,-.006,9,13);
firing(time45,firingDBlack,firingDRed,2093,2636,-.006,9,13);
firing(time45,firingEBlack,firingERed,2744,3288,-.0065,9,13);
// scatter panels
const dE=[31,26],dL=[39,33];
scatter(scatterF,fitF,unityEarly,289,590,1264,1625.5,dE,4.5,true);
scatter(scatterG,fitG,unityEarly,930,1232,1264,1625.5,dE,4.5,false);
scatter(scatterH,fitH,unityEarly,1573.5,1878,1264,1625.5,dE,4.5,false);
scatter(scatterI,fitI,unityEarly,2226.5,2532,1264,1625.5,dE,4.5,false);
scatter(scatterJ,fitJ,unityEarly,2881,3182,1264,1625.5,dE,4.5,false,[[0,0],[0,-3.5]]);
scatter(scatterK,fitK,unityLateShort,285,597,2056.5,2417,dL,6.5,true);
scatter(scatterL,fitL,unityLateShort,933,1233,2056.5,2417,dL,6.5,false);
scatter(scatterM,fitM,unityLate,1571,1879.5,2056.5,2417,dL,7,false);
scatter(scatterN,fitN,unityLate,2234,2533,2056.5,2417,dL,7,false);
scatter(scatterO,fitO,unityLate,2884,3181,2056.5,2417,dL,5.5,false);
// text
panelTitles.forEach(t=>txt(t[0],t[1],t[2],63));
panelLetters.forEach(t=>txt(t[0],t[1],t[2],98,0,700));
sectionTitles.forEach(t=>txt(t[0],t[1],t[2],91));
timeTitles.forEach(t=>txt("Time (s)",t[0],t[1],55));
q1Titles.forEach(t=>{txt("DS-response, Q1",t[0],2570,60);txt("(Z-Score)",t[1],2638,61);});
txt("Neurons",28,423,54,-90);txt("Pre",112,284,52,-90);txt("Post",112,564,52,-90);txt("Firing (Hz)",36,810,55,-90);txt("Z-score",3475,311,36,-90);
txt("DS-response, Q2",83,1476,60,-90);txt("(Z-Score)",153,1477,60,-90);
txt("DS-response, Q2",83,2268,60,-90);txt("(Z-Score)",153,2267,60,-90);
</script>
</body></html>
